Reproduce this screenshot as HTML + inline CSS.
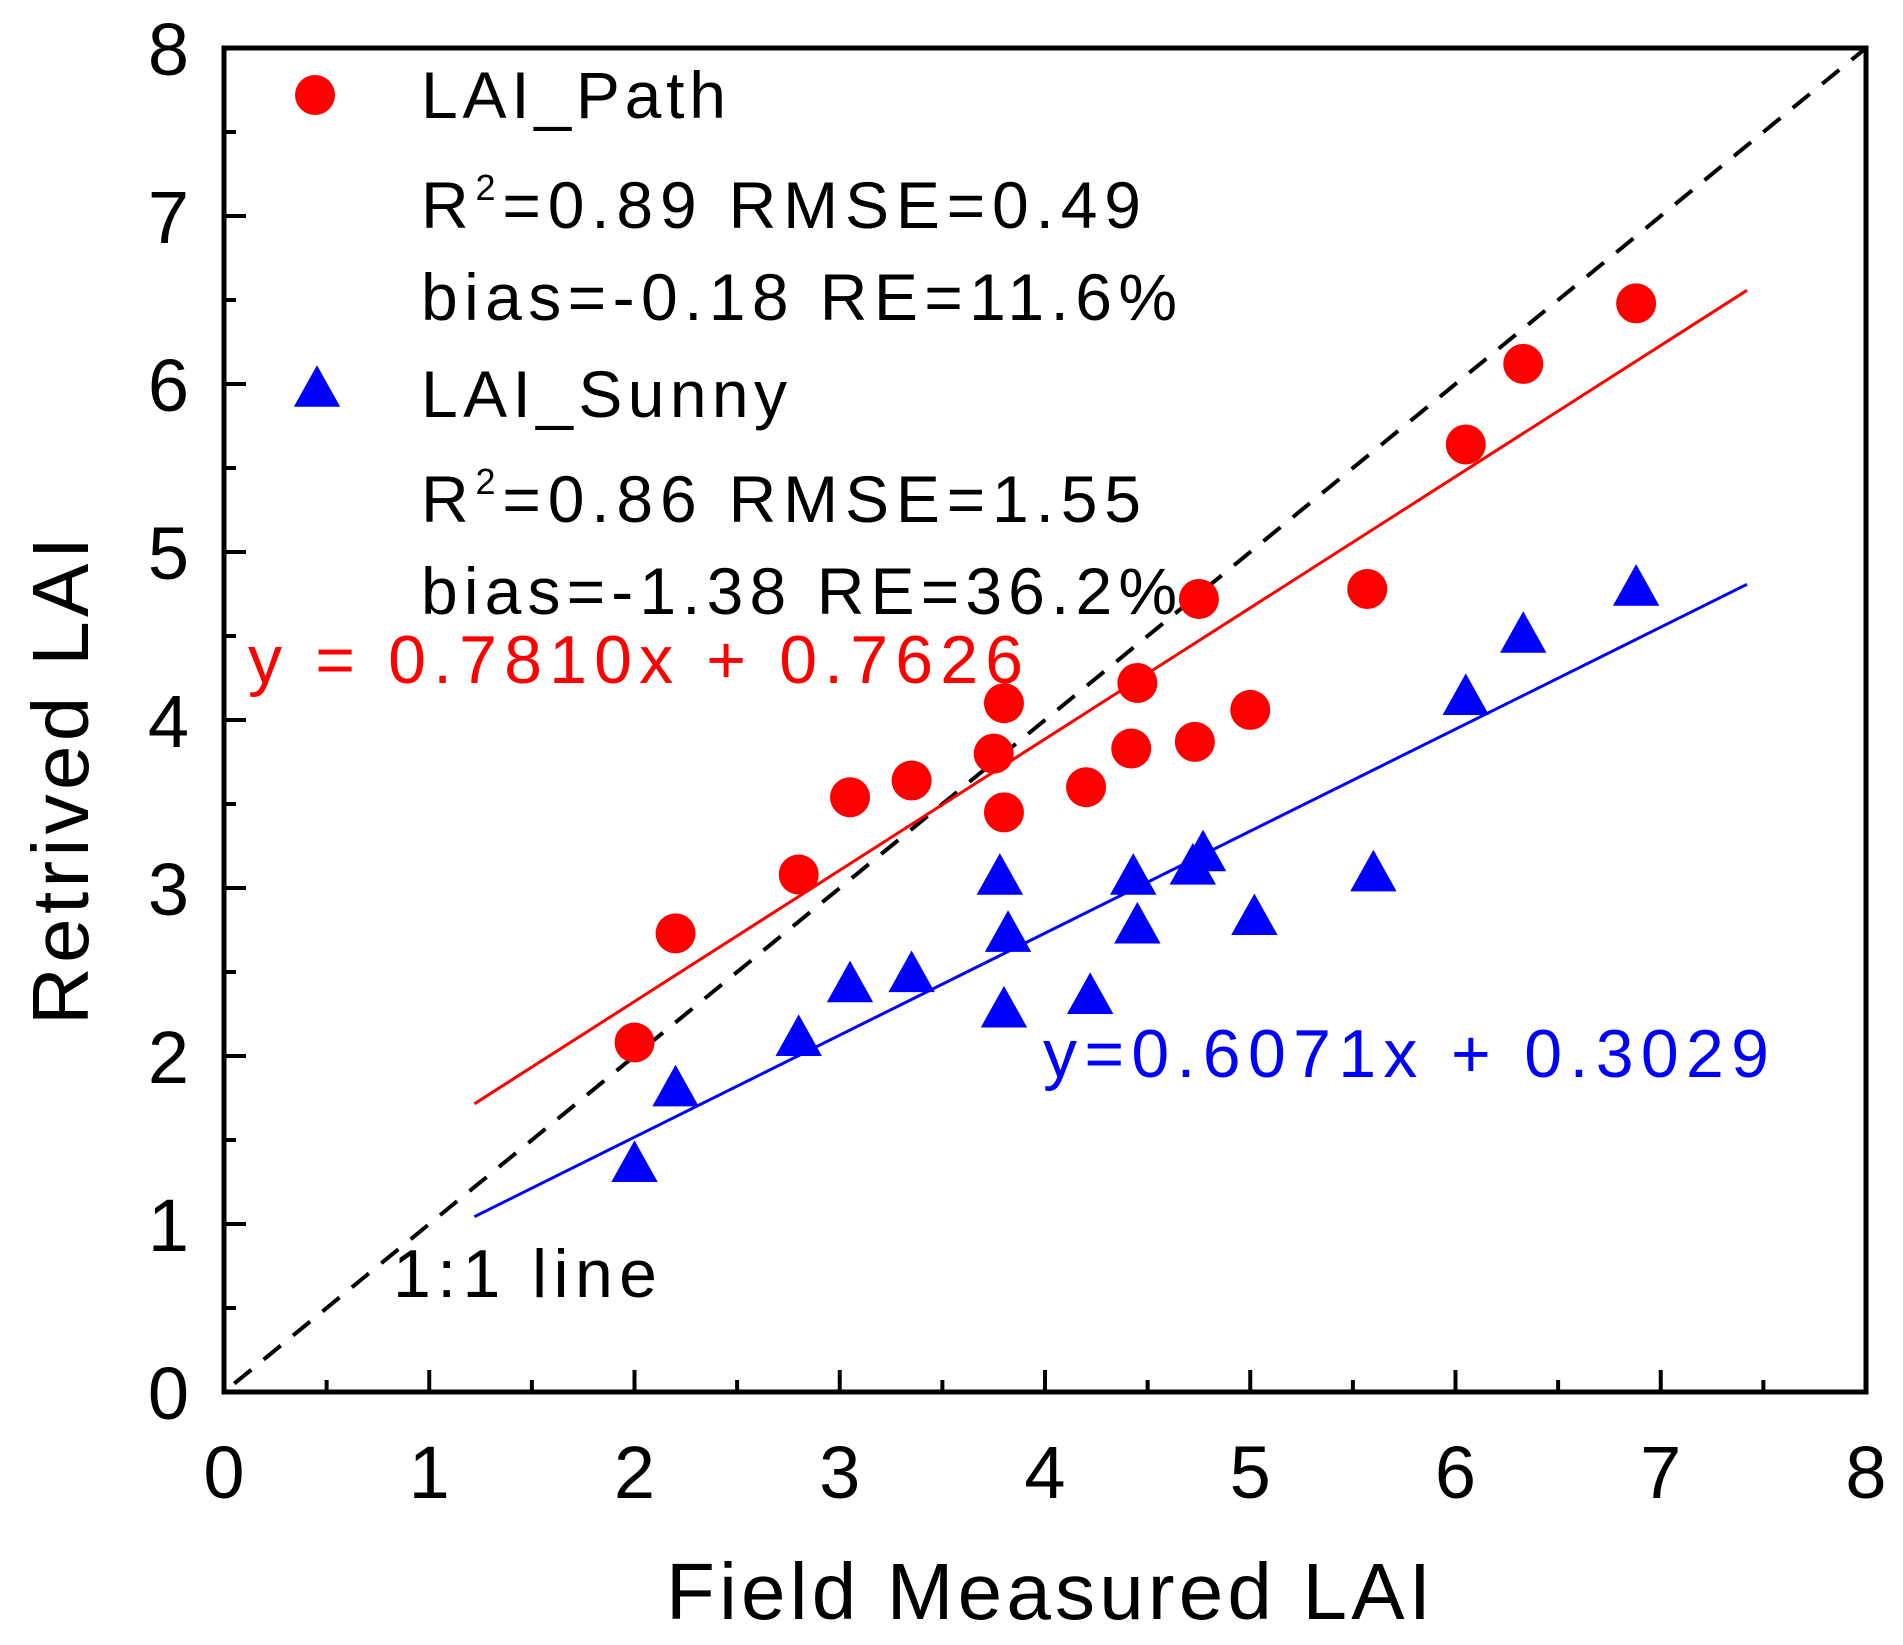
<!DOCTYPE html>
<html><head><meta charset="utf-8"><style>
body{margin:0;background:#fff}
text{font-family:"Liberation Sans",Arial,sans-serif}
</style></head><body>
<svg id="chart" width="1903" height="1640" viewBox="0 0 1903 1640" xmlns="http://www.w3.org/2000/svg">
<g id="g"></g>
</svg>
<script>
const pathX=[2.0,2.2,2.8,3.05,3.35,3.75,3.8,3.8,4.2,4.45,4.42,4.75,4.73,5.0,5.57,6.05,6.33,6.88];
const pathY=[2.08,2.73,3.08,3.54,3.64,3.8,4.1,3.45,3.6,4.22,3.83,4.72,3.87,4.06,4.78,5.64,6.12,6.48];
const sunnyX=[2.0,2.2,2.8,3.05,3.35,3.78,3.82,3.8,4.22,4.43,4.45,4.72,4.77,5.02,5.6,6.05,6.33,6.88];
const sunnyY=[1.35,1.8,2.1,2.42,2.48,3.06,2.72,2.27,2.35,3.06,2.77,3.12,3.2,2.82,3.08,4.13,4.5,4.78];
const ticks=[0,1,2,3,4,5,6,7,8];
const fitPath=[0.7810,0.7626];
const fitSunny=[0.6071,0.3029];
const fitRange=[1.22,7.42];

const L=224,R=1866,T=48,B=1392;
const sx=v=>L+(R-L)*v/8, sy=v=>B-(B-T)*v/8;
const NS='http://www.w3.org/2000/svg';
const g=document.getElementById('g');
function mk(tag,attrs,parent){const e=document.createElementNS(NS,tag);for(const k in attrs)e.setAttribute(k,attrs[k]);(parent||g).appendChild(e);return e;}
function txt(s,x,y,size,fill,anchor,len){const a={x:x,y:y,'font-size':size,fill:fill||'#000','text-anchor':anchor||'start'};if(len){a.textLength=len;a.lengthAdjust='spacing';}const e=mk('text',a);e.textContent=s;return e;}

let e=mk('line',{x1:sx(0.05),y1:sy(0.05),x2:sx(8),y2:sy(8),stroke:'#000','stroke-width':4,'stroke-dasharray':'22 16'});


e=mk('line',{x1:sx(fitRange[0]),y1:sy(fitPath[0]*fitRange[0]+fitPath[1]),x2:sx(fitRange[1]),y2:sy(fitPath[0]*fitRange[1]+fitPath[1]),stroke:'#ff0000','stroke-width':3});


e=mk('line',{x1:sx(fitRange[0]),y1:sy(fitSunny[0]*fitRange[0]+fitSunny[1]),x2:sx(fitRange[1]),y2:sy(fitSunny[0]*fitRange[1]+fitSunny[1]),stroke:'#0000ff','stroke-width':3});



function tri(cx,cy,s){return `${cx},${cy-s*0.62} ${cx-s*0.58},${cy+s*0.42} ${cx+s*0.58},${cy+s*0.42}`;}
sunnyX.forEach((x,i)=>{
 const p=mk('polygon',{points:tri(sx(x),sy(sunnyY[i]),40),fill:'#0000ff'});
 
 
});
pathX.forEach((x,i)=>{
 const c=mk('circle',{cx:sx(x),cy:sy(pathY[i]),r:20,fill:'#ff0000'});
 
 
});

e=mk('rect',{x:L,y:T,width:R-L,height:B-T,fill:'none',stroke:'#000','stroke-width':5});


for(let v=0;v<=8;v+=0.5){
 const major=Number.isInteger(v), len=major?22:12;
 mk('line',{x1:sx(v),y1:B,x2:sx(v),y2:B-len,stroke:'#000','stroke-width':4});
 mk('line',{x1:L,y1:sy(v),x2:L+len,y2:sy(v),stroke:'#000','stroke-width':4});
}
ticks.forEach(t=>{
 let a=txt(String(t),sx(t),1498,74,'#000','middle');
 
 
 a=txt(String(t),189,sy(t)+27,74,'#000','end');
 
 
});
e=txt('Field Measured LAI',666,1619,80,'#000','start',765);


e=txt('Retrived LAI',0,0,80,'#000','middle',488);
e.setAttribute('transform','translate(88,781) rotate(-90)');



e=mk('circle',{cx:315,cy:95,r:20,fill:'#ff0000'});


e=mk('polygon',{points:tri(317,390,40),fill:'#0000ff'});


e=txt('LAI_Path',421,118,66,'#000','start',305);


e=txt('',421,228,66,'#000','start',720);e.innerHTML='R<tspan dy="-28" font-size="36">2</tspan><tspan dy="28">=0.89  RMSE=0.49</tspan>';


e=txt('bias=-0.18  RE=11.6%',421,320,66,'#000','start',756);


e=txt('LAI_Sunny',421,417,66,'#000','start',366);


e=txt('',421,522,66,'#000','start',720);e.innerHTML='R<tspan dy="-28" font-size="36">2</tspan><tspan dy="28">=0.86  RMSE=1.55</tspan>';


e=txt('bias=-1.38  RE=36.2%',421,614,66,'#000','start',756);


e=txt('y = 0.7810x + 0.7626',248,683,68,'#ff0000','start',775);


e=txt('y=0.6071x + 0.3029',1043,1077,68,'#0000ff','start',726);


e=txt('1:1 line',393,1297,68,'#000','start',264);


</script>
</body></html>
